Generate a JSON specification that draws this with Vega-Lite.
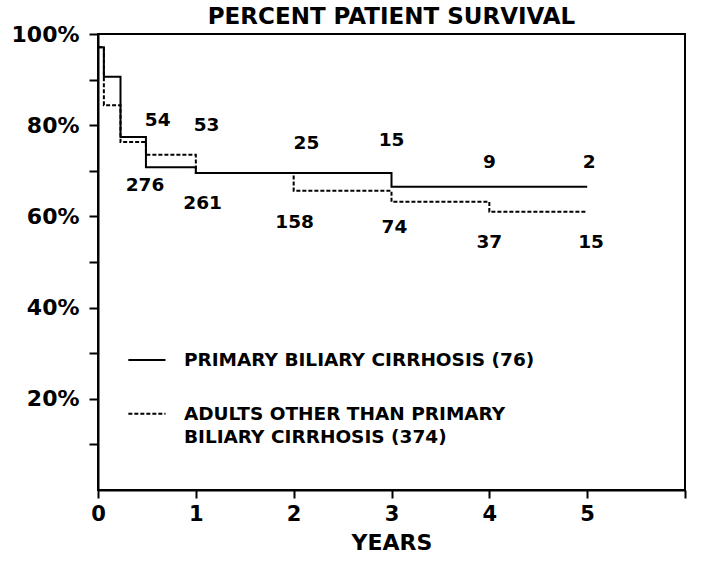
{
  "$schema": "https://vega.github.io/schema/vega-lite/v6.json",
  "autosize": "none",
  "width": 587,
  "height": 456,
  "padding": {"left": 98, "top": 34, "right": 17, "bottom": 78},
  "background": "white",
  "title": {"text": "PERCENT PATIENT SURVIVAL", "anchor": "middle", "offset": -6, "font": "DejaVu Sans", "fontSize": 23, "fontWeight": "bold", "color": "black"},
  "config": {
    "view": {"stroke": "black", "strokeWidth": 2},
    "axis": {"grid": false, "domainColor": "black", "domainWidth": 2, "tickColor": "black", "tickWidth": 2, "labelColor": "black", "titleColor": "black", "labelFont": "DejaVu Sans", "labelFontWeight": "bold", "titleFont": "DejaVu Sans", "titleFontWeight": "bold"}
  },
  "datasets": {
    "curves": [
      {"group": "PBC", "t": 0, "s": 97.1},
      {"group": "PBC", "t": 0.06, "s": 90.6},
      {"group": "PBC", "t": 0.23, "s": 77.4},
      {"group": "PBC", "t": 0.49, "s": 70.8},
      {"group": "PBC", "t": 1.0, "s": 69.5},
      {"group": "PBC", "t": 3.0, "s": 66.5},
      {"group": "PBC", "t": 5.0, "s": 66.5},
      {"group": "Other", "t": 0, "s": 97.1},
      {"group": "Other", "t": 0.06, "s": 84.4},
      {"group": "Other", "t": 0.23, "s": 76.3},
      {"group": "Other", "t": 0.49, "s": 73.5},
      {"group": "Other", "t": 1.0, "s": 69.5},
      {"group": "Other", "t": 2.0, "s": 65.6},
      {"group": "Other", "t": 3.0, "s": 63.2},
      {"group": "Other", "t": 4.0, "s": 61.0},
      {"group": "Other", "t": 5.0, "s": 61.0}
    ],
    "counts": [
      {"t": 0.61, "s": 81.1, "n": "54"},
      {"t": 1.11, "s": 80.0, "n": "53"},
      {"t": 2.13, "s": 76.1, "n": "25"},
      {"t": 3.0, "s": 76.8, "n": "15"},
      {"t": 4.0, "s": 71.9, "n": "9"},
      {"t": 5.02, "s": 71.9, "n": "2"},
      {"t": 0.48, "s": 66.9, "n": "276"},
      {"t": 1.07, "s": 62.9, "n": "261"},
      {"t": 2.01, "s": 58.8, "n": "158"},
      {"t": 3.03, "s": 57.7, "n": "74"},
      {"t": 4.0, "s": 54.4, "n": "37"},
      {"t": 5.04, "s": 54.4, "n": "15"}
    ],
    "legendLines": [
      {"group": "PBC", "t": 0.31, "t2": 0.69, "s": 28.5},
      {"group": "Other", "t": 0.31, "t2": 0.69, "s": 16.7}
    ],
    "legendText": [
      {"t": 0.878, "s": 28.5, "label": "PRIMARY BILIARY CIRRHOSIS (76)"},
      {"t": 0.878, "s": 16.7, "label": "ADULTS OTHER THAN PRIMARY"},
      {"t": 0.878, "s": 11.6, "label": "BILIARY CIRRHOSIS (374)"}
    ]
  },
  "layer": [
    {
      "data": {"name": "curves"},
      "mark": {"type": "line", "interpolate": "step-after", "color": "black", "strokeWidth": 2},
      "encoding": {
        "x": {"field": "t", "type": "quantitative", "scale": {"domain": [0, 6], "nice": false},
          "axis": {"values": [0, 1, 2, 3, 4, 5, 6], "format": "d", "labelFlush": false, "labelExpr": "datum.value < 6 ? datum.label : ''", "title": "YEARS", "tickSize": 8, "labelFontSize": 21, "labelPadding": 5, "titleFontSize": 22, "titlePadding": 8}},
        "y": {"field": "s", "type": "quantitative", "scale": {"domain": [0, 100], "nice": false},
          "axis": {"values": [10, 20, 30, 40, 50, 60, 70, 80, 90, 100], "labelExpr": "datum.value % 20 == 0 ? datum.value + '%' : ''", "title": null, "tickSize": 9, "labelFontSize": 22, "labelPadding": 10}},
        "detail": {"field": "group"},
        "strokeDash": {"field": "group", "type": "nominal", "scale": {"domain": ["PBC", "Other"], "range": [[1, 0], [4, 2]]}, "legend": null}
      }
    },
    {
      "data": {"name": "counts"},
      "mark": {"type": "text", "font": "DejaVu Sans", "fontWeight": "bold", "fontSize": 18.5, "color": "black", "align": "center", "baseline": "middle"},
      "encoding": {
        "x": {"field": "t", "type": "quantitative"},
        "y": {"field": "s", "type": "quantitative"},
        "text": {"field": "n"}
      }
    },
    {
      "data": {"name": "legendLines"},
      "mark": {"type": "rule", "color": "black", "strokeWidth": 2},
      "encoding": {
        "x": {"field": "t", "type": "quantitative"},
        "x2": {"field": "t2"},
        "y": {"field": "s", "type": "quantitative"},
        "strokeDash": {"field": "group", "type": "nominal", "scale": {"domain": ["PBC", "Other"], "range": [[1, 0], [4, 2]]}, "legend": null}
      }
    },
    {
      "data": {"name": "legendText"},
      "mark": {"type": "text", "font": "DejaVu Sans", "fontWeight": "bold", "fontSize": 18.5, "color": "black", "align": "left", "baseline": "middle"},
      "encoding": {
        "x": {"field": "t", "type": "quantitative"},
        "y": {"field": "s", "type": "quantitative"},
        "text": {"field": "label"}
      }
    }
  ]
}
